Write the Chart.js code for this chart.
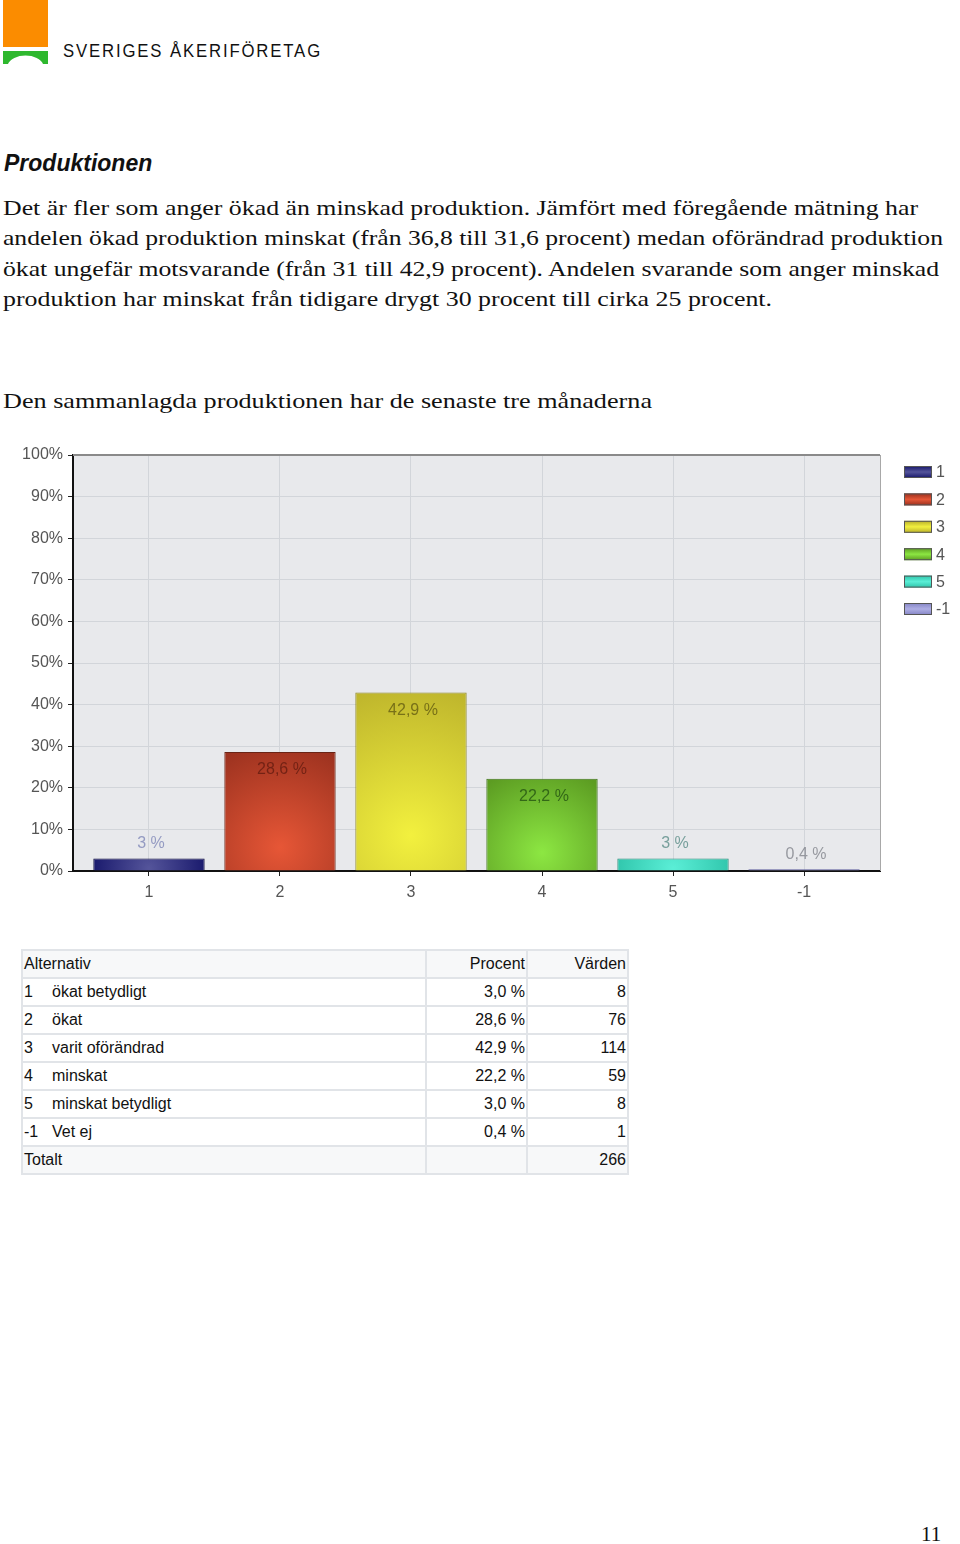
<!DOCTYPE html>
<html>
<head>
<meta charset="utf-8">
<script src="https://cdn.jsdelivr.net/npm/chart.js@4"></script>
<style>
  body { margin: 0; background: #fff; width: 960px; height: 1544px; position: relative; overflow: hidden; }
  .abs { position: absolute; white-space: nowrap; }
  .serif { font-family: "Liberation Serif", serif; color: #111; }
  .fit { display: inline-block; transform-origin: 0 0; }
  #chartBox { position: absolute; left: 0; top: 440px; width: 960px; height: 470px; }
  table { position: absolute; left: 21px; top: 949px; border-collapse: collapse; font-family: "Liberation Sans", Arial, sans-serif; font-size: 16px; color: #111; }
  td { border: 2px solid #e1e4e8; height: 26px; padding: 0 1px; }
  td.num { text-align: right; }
</style>
</head>
<body>

<!-- Logo -->
<svg class="abs" style="left:0;top:0" width="60" height="66">
  <rect x="3" y="0" width="45" height="47" fill="#fb8c00"/>
  <path d="M3 51 H48 V64 H43 A18 11 0 0 0 8 64 H3 Z" fill="#2eb82e"/>
</svg>
<div class="abs" style="left:63px;top:41px;font-family:'Liberation Sans',Arial,sans-serif;font-size:18px;color:#111;">
  <span class="fit" data-w="259" style="letter-spacing:2px">SVERIGES ÅKERIFÖRETAG</span>
</div>

<div class="abs" style="left:4px;top:150px;font-family:'Liberation Sans',Arial,sans-serif;font-size:23px;font-weight:bold;font-style:italic;color:#111;">Produktionen</div>

<div class="abs serif" style="left:3px;top:193px;font-size:22px;line-height:30.4px;">
  <span class="fit" data-w="915">Det är fler som anger ökad än minskad produktion. Jämfört med föregående mätning har</span><br>
  <span class="fit" data-w="940">andelen ökad produktion minskat (från 36,8 till 31,6 procent) medan oförändrad produktion</span><br>
  <span class="fit" data-w="936">ökat ungefär motsvarande (från 31 till 42,9 procent). Andelen svarande som anger minskad</span><br>
  <span class="fit" data-w="769">produktion har minskat från tidigare drygt 30 procent till cirka 25 procent.</span>
</div>

<div class="abs serif" style="left:3px;top:388px;font-size:22px;">
  <span class="fit" data-w="649">Den sammanlagda produktionen har de senaste tre månaderna</span>
</div>

<div id="chartBox"><canvas id="prodChart"></canvas></div>

<table id="resultTable">
  <tbody></tbody>
</table>

<div class="abs serif" style="left:921px;top:1522px;font-size:21px;">11</div>

<script>
// Chart data
const categories = ['1', '2', '3', '4', '5', '-1'];
const percentValues = [3.0, 28.6, 42.9, 22.2, 3.0, 0.4];
const barLabels = ['3 %', '28,6 %', '42,9 %', '22,2 %', '3 %', '0,4 %'];
const yTickLabels = ['0%', '10%', '20%', '30%', '40%', '50%', '60%', '70%', '80%', '90%', '100%'];

// Table data
const alternativeNames = ['ökat betydligt', 'ökat', 'varit oförändrad', 'minskat', 'minskat betydligt', 'Vet ej'];
const percentTexts = ['3,0 %', '28,6 %', '42,9 %', '22,2 %', '3,0 %', '0,4 %'];
const answerCounts = [8, 76, 114, 59, 8, 1];
const totalCount = 266;

// Colours per bar
const barLight = ['#54549a', '#e65636', '#f2f03e', '#8ce642', '#5aeed6', '#aeaee4'];
const barDark = ['#16166a', '#98301e', '#b8ae2a', '#5c9c22', '#2ec4aa', '#8484c4'];
const barBorder = ['#0a0a3c', '#6a2416', '#8c8620', '#3e7218', '#2a8a78', '#60609e'];
const labelColors = ['rgba(120,128,180,0.75)', 'rgba(100,28,16,0.8)', 'rgba(100,92,18,0.8)', 'rgba(36,84,18,0.8)', 'rgba(90,140,135,0.8)', 'rgba(130,132,140,0.8)'];

/* Fit text lines to the widths measured on the reference */
document.querySelectorAll('.fit').forEach(el => {
  const w = el.getBoundingClientRect().width;
  el.style.transform = 'scaleX(' + (parseFloat(el.dataset.w) / w) + ')';
});

/* Table */
const tbody = document.querySelector('#resultTable tbody');
function addRow(cells, bg) {
  const tr = document.createElement('tr');
  cells.forEach((c, i) => {
    const td = document.createElement('td');
    td.innerHTML = c;
    td.style.width = ['400px', '97px', '97px'][i];
    if (i > 0) td.className = 'num';
    if (bg) td.style.background = bg;
    tr.appendChild(td);
  });
  tbody.appendChild(tr);
}
addRow(['Alternativ', 'Procent', 'Värden'], '#f7f8f9');
alternativeNames.forEach((name, i) => {
  addRow(['<span style="display:inline-block;width:28px">' + categories[i] + '</span>' + name, percentTexts[i], answerCounts[i]]);
});
addRow(['Totalt', '', totalCount], '#f7f8f9');

/* Chart */
function barGradient(ctx) {
  const chart = ctx.chart;
  const i = ctx.dataIndex;
  if (!chart.chartArea || i === undefined) return barDark[i] || '#888';
  const xs = chart.scales.x, ys = chart.scales.y;
  const cx = xs.getPixelForValue(i);
  const top = ys.getPixelForValue(percentValues[i]);
  const bot = ys.getPixelForValue(0);
  const h = Math.max(bot - top, 1);
  const cy = bot - h * 0.2;
  const g = chart.ctx.createRadialGradient(cx, cy, 1, cx, cy, Math.max(h * 0.95, 60));
  g.addColorStop(0, barLight[i]);
  g.addColorStop(1, barDark[i]);
  return g;
}

const plotBackground = {
  id: 'plotBackground',
  beforeDraw(chart) {
    const a = chart.chartArea, c = chart.ctx;
    c.save();
    c.fillStyle = '#e8e9ec';
    c.fillRect(a.left, a.top, a.right - a.left, a.bottom - a.top);
    c.restore();
  },
  afterDraw(chart) {
    const a = chart.chartArea, c = chart.ctx;
    c.save();
    // top and right frame
    c.strokeStyle = '#8a8a8a';
    c.lineWidth = 2;
    c.beginPath();
    c.moveTo(a.left, a.top);
    c.lineTo(a.right, a.top);
    c.stroke();
    c.strokeStyle = '#a8a8a8';
    c.lineWidth = 1;
    c.beginPath();
    c.moveTo(a.right + 0.5, a.top);
    c.lineTo(a.right + 0.5, a.bottom);
    c.stroke();

    // value labels
    const meta = chart.getDatasetMeta(0);
    c.font = '16px "Liberation Sans", Arial, sans-serif';
    c.textAlign = 'center';
    c.textBaseline = 'middle';
    meta.data.forEach((bar, i) => {
      const inside = percentValues[i] > 10;
      c.fillStyle = labelColors[i];
      const y = inside ? bar.y + 18 : bar.y - 15;
      c.fillText(barLabels[i], bar.x + 2, y);
    });

    // legend
    c.font = '16px "Liberation Sans", Arial, sans-serif';
    categories.forEach((cat, i) => {
      const x = a.right + 24;
      const y = a.top + 11 + i * 27.4;
      const g = c.createLinearGradient(0, y, 0, y + 12);
      g.addColorStop(0, barDark[i]);
      g.addColorStop(0.5, barLight[i]);
      g.addColorStop(1, barDark[i]);
      c.fillStyle = g;
      c.fillRect(x, y, 28, 12);
      c.strokeStyle = '#555';
      c.lineWidth = 1;
      c.strokeRect(x + 0.5, y + 0.5, 27, 11);
      c.fillStyle = '#555';
      c.textAlign = 'left';
      c.fillText(cat, x + 32, y + 7);
    });
    c.restore();
  }
};

new Chart(document.getElementById('prodChart'), {
  type: 'bar',
  data: {
    datasets: [{
      data: percentValues.map((v, i) => ({ x: i, y: v })),
      backgroundColor: barGradient,
      borderColor: barBorder,
      borderWidth: 1,
      borderSkipped: 'bottom',
      barPercentage: 0.85,
      categoryPercentage: 1
    }]
  },
  options: {
    responsive: true,
    maintainAspectRatio: false,
    animation: false,
    layout: { padding: { top: 15, right: 80, bottom: 0, left: 0 } },
    plugins: { legend: { display: false }, tooltip: { enabled: false } },
    scales: {
      x: {
        type: 'linear',
        min: -0.58,
        max: 5.58,
        offset: false,
        afterBuildTicks: scale => { scale.ticks = categories.map((c, i) => ({ value: i })); },
        afterFit: scale => { scale.height = 39; },
        ticks: {
          callback: v => categories[v],
          color: '#555',
          font: { family: '"Liberation Sans", Arial, sans-serif', size: 16 },
          padding: 7,
          autoSkip: false,
          maxRotation: 0
        },
        grid: { offset: false, color: '#d2d5da', tickColor: '#222', tickLength: 5 },
        border: { color: '#111', width: 2 }
      },
      y: {
        min: 0,
        max: 100,
        afterFit: scale => { scale.width = 73; },
        ticks: {
          stepSize: 10,
          callback: (v, i) => yTickLabels[i],
          color: '#555',
          font: { family: '"Liberation Sans", Arial, sans-serif', size: 16 },
          padding: 5
        },
        grid: { color: '#d2d5da', tickColor: '#222', tickLength: 5 },
        border: { color: '#111', width: 2 }
      }
    }
  },
  plugins: [plotBackground]
});
</script>
</body>
</html>
